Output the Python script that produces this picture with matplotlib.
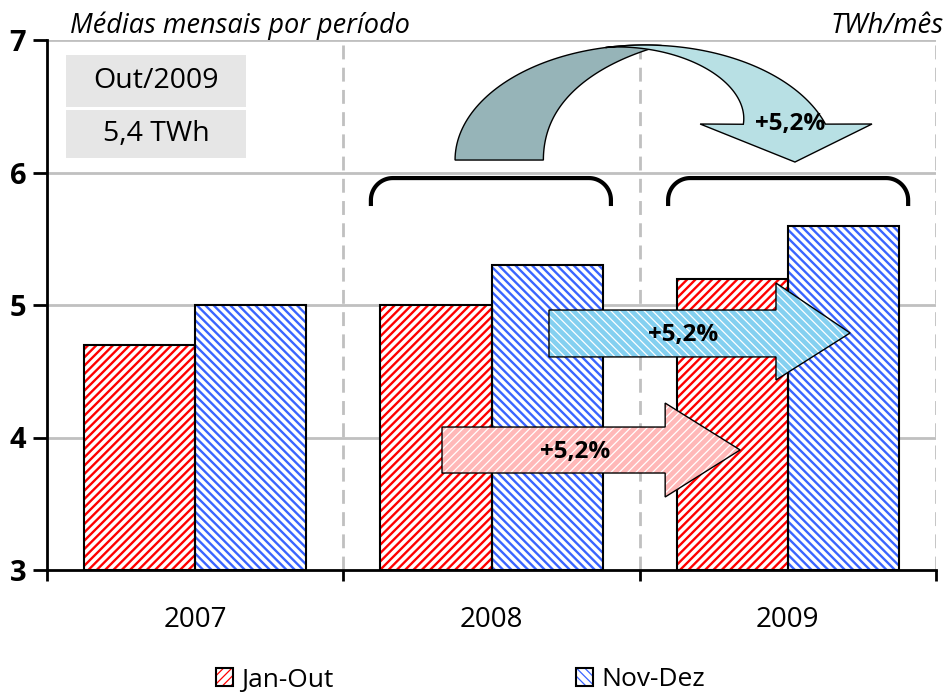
import numpy as np
import matplotlib
matplotlib.use("Agg")
import matplotlib.pyplot as plt
from matplotlib.patches import Polygon, Rectangle
from matplotlib.legend_handler import HandlerTuple

plt.rcParams['font.family'] = ['Open Sans', 'DejaVu Sans']

years = ["2007", "2008", "2009"]
jan_out = [4.7, 5.0, 5.2]
nov_dez = [5.0, 5.3, 5.6]
series_names = ["Jan-Out", "Nov-Dez"]
growth_label = "+5,2%"
box_lines = ["Out/2009", "5,4 TWh"]

RED = "#ff0000"
BLUE = "#3a64ff"
GRID = "#c0c0c0"

fig = plt.figure(figsize=(9.46, 6.92), dpi=100)
ax = fig.add_axes([47 / 946, 1 - 570 / 692, (936 - 47) / 946, (570 - 40) / 692])

x = np.arange(len(years))
w = 0.375
base = 3
red_h = [v - base for v in jan_out]
blue_h = [v - base for v in nov_dez]

# hatched bars: hatch colour comes from rcParams when no edgecolor is given
plt.rcParams['hatch.linewidth'] = 1.7
plt.rcParams['hatch.color'] = RED
red_bars = ax.bar(x - w / 2, red_h, w, bottom=base, color="white", hatch="////",
                  linewidth=0, zorder=2)
plt.rcParams['hatch.color'] = BLUE
blue_bars = ax.bar(x + w / 2, blue_h, w, bottom=base, color="white", hatch="\\\\\\\\",
                   linewidth=0, zorder=2)
# black outlines drawn on top
red_edge = ax.bar(x - w / 2, red_h, w, bottom=base, fill=False, edgecolor="black",
                  linewidth=1.5, zorder=3)
blue_edge = ax.bar(x + w / 2, blue_h, w, bottom=base, fill=False, edgecolor="black",
                   linewidth=1.5, zorder=3)

ax.set_xlim(-0.5, 2.5)
ax.set_ylim(3, 7)
ax.set_yticks([3, 4, 5, 6, 7])
ax.set_yticklabels(["3", "4", "5", "6", "7"], fontsize=21, fontweight="bold")
ax.set_xticks([-0.5, 0.5, 1.5, 2.5])
ax.set_xticklabels([])
ax.set_xticks(x, minor=True)
ax.set_xticklabels(years, minor=True, fontsize=20)
ax.tick_params(axis="x", which="minor", length=0, pad=26)
ax.tick_params(axis="x", which="major", direction="out", length=8, width=2)
ax.tick_params(axis="y", direction="out", length=10, width=2, pad=5)

for s in ["top", "right"]:
    ax.spines[s].set_visible(False)
for s in ["left", "bottom"]:
    ax.spines[s].set_linewidth(2)
    ax.spines[s].set_zorder(6)

for yv in [4, 5, 6, 7]:
    ax.axhline(yv, color=GRID, lw=2, zorder=1)
for xv in [0.5, 1.5, 2.5]:
    ax.axvline(xv, color=GRID, lw=2, ls=(0, (5, 3)), zorder=1)


def hatched_poly(pts, face, hatch, z):
    plt.rcParams['hatch.color'] = "white"
    plt.rcParams['hatch.linewidth'] = 0.9
    ax.add_patch(Polygon(pts, closed=True, facecolor=face, hatch=hatch,
                         linewidth=0, zorder=z))
    ax.add_patch(Polygon(pts, closed=True, fill=False, edgecolor="black",
                         linewidth=1, zorder=z))


# straight arrows
red_arrow = [(0.833, 3.732), (0.833, 4.079), (1.586, 4.079), (1.586, 4.260),
             (1.839, 3.906), (1.586, 3.551), (1.586, 3.732)]
hatched_poly(red_arrow, "#ffb8b8", "////", 4)
ax.text(1.282, 3.89, growth_label, ha="center", va="center", fontsize=17.5,
        fontweight="bold", zorder=7)

blue_arrow = [(1.194, 4.608), (1.194, 4.962), (1.960, 4.962), (1.960, 5.166),
              (2.210, 4.789), (1.960, 4.434), (1.960, 4.608)]
hatched_poly(blue_arrow, "#84d0f0", "\\\\\\\\", 4)
ax.text(1.646, 4.774, growth_label, ha="center", va="center", fontsize=17.5,
        fontweight="bold", zorder=7)

# curved arrow
cx, cy, a, b = 1.518, 6.094, 0.641, 0.868
th = np.radians(np.linspace(180, 85, 60))
s = (180 - np.degrees(th)) / 95
r = 0.535 + 0.465 * s ** 2
outer = np.column_stack([cx + a * np.cos(th), cy + b * np.sin(th)])
inner = np.column_stack([cx + a * r * np.cos(th), cy + b * r * np.sin(th)])[::-1]
ax.add_patch(Polygon(np.vstack([outer, inner]), closed=True, facecolor="#96b4b8",
                     edgecolor="black", linewidth=1, zorder=4))

th_o = np.radians(np.linspace(102, 18.2, 60))
outer = np.column_stack([cx + a * np.cos(th_o), cy + b * np.sin(th_o)])
th_i = np.linspace(31, 102, 60)
s = (102 - th_i) / 71
r = 1 - 0.396 * s ** 1.4
th_i = np.radians(th_i)
inner = np.column_stack([cx + a * r * np.cos(th_i), cy + b * r * np.sin(th_i)])
head = np.array([(2.284, 6.366), (2.024, 6.079), (1.704, 6.366)])
ax.add_patch(Polygon(np.vstack([outer, head, inner]), closed=True, facecolor="#b8e0e4",
                     edgecolor="black", linewidth=1, zorder=4))
ax.text(2.008, 6.366, growth_label, ha="center", va="center", fontsize=17.5,
        fontweight="bold", zorder=7)


def bracket(x0, x1, ybot, ytop):
    rx, ry = 0.074, 0.166
    t = np.linspace(np.pi, np.pi / 2, 20)
    left = np.column_stack([x0 + rx + rx * np.cos(t), ytop - ry + ry * np.sin(t)])
    t = np.linspace(np.pi / 2, 0, 20)
    right = np.column_stack([x1 - rx + rx * np.cos(t), ytop - ry + ry * np.sin(t)])
    pts = np.vstack([[(x0, ybot)], left, right, [(x1, ybot)]])
    ax.plot(pts[:, 0], pts[:, 1], color="black", lw=3, solid_capstyle="butt", zorder=5)


bracket(0.593, 1.403, 5.747, 5.958)
bracket(1.596, 2.406, 5.747, 5.958)

# info box
for (y0, y1), txt in zip([(6.494, 6.887), (6.109, 6.472)], box_lines):
    ax.add_patch(Rectangle((-0.436, y0), 0.608, y1 - y0, facecolor="#e6e6e6",
                           edgecolor="none", zorder=4))
    ax.text(-0.132, (y0 + y1) / 2, txt, ha="center", va="center", fontsize=20.5, zorder=5)

fig.text(70 / 946, 1 - 33 / 692, "Médias mensais por período", ha="left", va="baseline",
         fontsize=19.5, style="italic")
fig.text(944 / 946, 1 - 33 / 692, "TWh/mês", ha="right", va="baseline",
         fontsize=20, style="italic")

leg = fig.legend([(red_bars[0], red_edge[0]), (blue_bars[0], blue_edge[0])], series_names,
                 handler_map={tuple: HandlerTuple(ndivide=1)},
                 loc="center left", bbox_to_anchor=(216 / 946, 1 - 680 / 692),
                 ncol=2, frameon=False, fontsize=19, handlelength=0.65, handleheight=0.65,
                 handletextpad=0.3, columnspacing=9.2, borderpad=0, borderaxespad=0)

fig.savefig("out.png", dpi=100)
